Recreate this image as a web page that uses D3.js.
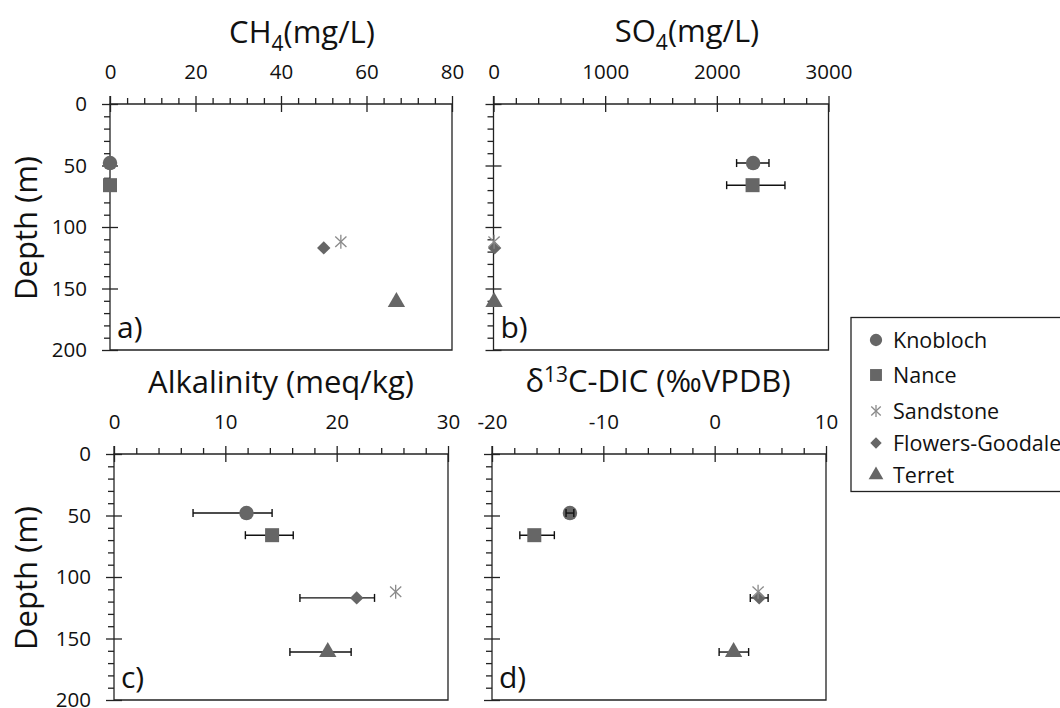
<!DOCTYPE html>
<html>
<head>
<meta charset="utf-8">
<script src="https://cdn.jsdelivr.net/npm/d3@7"></script>
<style>
  html, body { margin: 0; padding: 0; background: #fff; }
  svg { display: block; font-family: "Open Sans", Lato, sans-serif; }
</style>
</head>
<body>
<svg id="chart" width="1060" height="708"></svg>
<script>
// Sampling sites, their depths and measured groundwater chemistry
const sites = ["Knobloch", "Nance", "Sandstone", "Flowers-Goodale", "Terret"];
const depth = [48, 66, 112, 117, 161];

const ch4 = [0, 0, 54, 50, 67];

const so4 = [2325, 2320, 5, 10, 5];
const so4Lo = [2177, 2088, null, null, null];
const so4Hi = [2467, 2610, null, null, null];

const alk = [11.9, 14.2, 25.3, 21.8, 19.2];
const alkLo = [7.1, 11.8, null, 16.7, 15.8];
const alkHi = [14.2, 16.1, null, 23.4, 21.3];

const d13c = [-13.0, -16.2, 3.9, 4.0, 1.7];
const d13cLo = [-13.35, -17.5, null, 3.2, 0.4];
const d13cHi = [-12.65, -14.4, null, 4.8, 3.05];

const depthTicks = [0, 50, 100, 150, 200];
const ch4Ticks = [0, 20, 40, 60, 80];
const so4Ticks = [0, 1000, 2000, 3000];
const alkTicks = [0, 10, 20, 30];
const d13cTicks = [-20, -10, 0, 10];

const svg = d3.select("#chart");
const AX = "#222";
const FILL = "#666";
const FONT = "'Open Sans', Lato, sans-serif";
const TICK_FS = 20.5;
const fmt = v => String(v); // plain hyphen-minus for negatives

// marker shape per site (diamond = square turned 45 degrees)
const shapes = {
  "Knobloch": d3.symbolCircle,
  "Nance": d3.symbolSquare,
  "Flowers-Goodale": d3.symbolSquare,
  "Terret": d3.symbolTriangle
};
const sizes = { "Knobloch": 165, "Nance": 196, "Flowers-Goodale": 90, "Terret": 130 };

function drawMarker(g, site, x, y, scale = 1) {
  if (site === "Sandstone") {
    const r = 7 * scale;
    const s = g.append("g").attr("transform", `translate(${x},${y})`)
      .attr("stroke", "#8a8a8a").attr("stroke-width", 1.3);
    s.append("line").attr("x1", 0).attr("y1", -r).attr("x2", 0).attr("y2", r);
    s.append("line").attr("x1", -r * 0.8).attr("y1", -r * 0.75).attr("x2", r * 0.8).attr("y2", r * 0.75);
    s.append("line").attr("x1", -r * 0.8).attr("y1", r * 0.75).attr("x2", r * 0.8).attr("y2", -r * 0.75);
    return;
  }
  const rot = site === "Flowers-Goodale" ? " rotate(45)" : "";
  g.append("path")
    .attr("d", d3.symbol().type(shapes[site]).size(sizes[site] * scale * scale)())
    .attr("transform", `translate(${x},${y})${rot}`)
    .attr("fill", FILL);
}

function errorBar(g, x, lo, hi, cy) {
  const eb = g.append("g").attr("stroke", "#111").attr("stroke-width", 1.4);
  eb.append("line").attr("x1", x(lo)).attr("x2", x(hi)).attr("y1", cy).attr("y2", cy);
  [lo, hi].forEach(v => eb.append("line")
    .attr("x1", x(v)).attr("x2", x(v)).attr("y1", cy - 4).attr("y2", cy + 4));
}

function panel(opt) {
  const { x0, x1, y0, y1, domain, ticks, minor, values, lo, hi, label, showY } = opt;
  const x = d3.scaleLinear().domain(domain).range([x0, x1]);
  const y = d3.scaleLinear().domain([0, 200]).range([y0, y1]);
  const g = svg.append("g");

  // frame (right and bottom edges)
  g.append("path")
    .attr("d", `M${x1},${y0}V${y1}H${x0}`)
    .attr("fill", "none").attr("stroke", AX).attr("stroke-width", 1.3);

  // top axis: major ticks cross the line, minor ticks outside
  const xMinor = d3.range(domain[0], domain[1] + minor / 2, minor)
    .filter(v => !ticks.includes(Math.round(v * 1000) / 1000));
  const top = g.append("g").attr("transform", `translate(0,${y0})`)
    .call(d3.axisTop(x).tickValues(xMinor).tickSize(6).tickFormat(""));
  top.select(".domain").remove();
  top.selectAll("line").attr("stroke", AX).attr("stroke-width", 1.3);
  const topMaj = g.append("g").attr("transform", `translate(0,${y0 + 8})`)
    .call(d3.axisTop(x).tickValues(ticks).tickSize(16).tickPadding(17).tickFormat(fmt));
  topMaj.select(".domain").remove();
  topMaj.selectAll("line").attr("stroke", AX).attr("stroke-width", 1.3);
  topMaj.selectAll("text").attr("font-size", TICK_FS).attr("fill", "#111")
    .attr("font-family", FONT);
  g.append("line").attr("x1", x0 - 0.5).attr("x2", x1 + 0.6).attr("y1", y0).attr("y2", y0)
    .attr("stroke", AX).attr("stroke-width", 1.3);

  // left depth axis
  const yMinor = d3.range(0, 201, 10).filter(v => !depthTicks.includes(v));
  const left = g.append("g").attr("transform", `translate(${x0},0)`)
    .call(d3.axisLeft(y).tickValues(yMinor).tickSize(6).tickFormat(""));
  left.select(".domain").remove();
  left.selectAll("line").attr("stroke", AX).attr("stroke-width", 1.3);
  const leftMaj = g.append("g").attr("transform", `translate(${x0 + 8},0)`)
    .call(d3.axisLeft(y).tickValues(depthTicks).tickSize(16).tickPadding(15)
      .tickFormat(showY ? fmt : ""));
  leftMaj.select(".domain").remove();
  leftMaj.selectAll("line").attr("stroke", AX).attr("stroke-width", 1.3);
  leftMaj.selectAll("text").attr("font-size", TICK_FS).attr("fill", "#111")
    .attr("font-family", FONT);
  g.append("line").attr("x1", x0).attr("x2", x0).attr("y1", y0 - 8).attr("y2", y1 + 0.6)
    .attr("stroke", AX).attr("stroke-width", 1.3);

  // panel letter
  g.append("text").attr("x", x0 + 7).attr("y", y1 - 12)
    .attr("font-size", 30).attr("fill", "#111").text(label);

  // error bars, then markers, then any bar shorter than its marker on top
  sites.forEach((s, i) => {
    if (lo && lo[i] != null) errorBar(g, x, lo[i], hi[i], y(depth[i]));
  });
  [0, 1, 3, 4, 2].forEach(i => drawMarker(g, sites[i], x(values[i]), y(depth[i])));
  sites.forEach((s, i) => {
    if (lo && lo[i] != null && x(hi[i]) - x(lo[i]) < 12) errorBar(g, x, lo[i], hi[i], y(depth[i]));
  });
  return g;
}

panel({ x0: 110, x1: 452, y0: 104, y1: 350, domain: [0, 80], ticks: ch4Ticks, minor: 4,
  values: ch4, label: "a)", showY: true });
panel({ x0: 493.5, x1: 828.5, y0: 104, y1: 350, domain: [0, 3000], ticks: so4Ticks, minor: 200,
  values: so4, lo: so4Lo, hi: so4Hi, label: "b)", showY: false });
panel({ x0: 114, x1: 448, y0: 454, y1: 700, domain: [0, 30], ticks: alkTicks, minor: 2,
  values: alk, lo: alkLo, hi: alkHi, label: "c)", showY: true });
panel({ x0: 492, x1: 826, y0: 454, y1: 700, domain: [-20, 10], ticks: d13cTicks, minor: 2,
  values: d13c, lo: d13cLo, hi: d13cHi, label: "d)", showY: false });

// panel titles
function title(cx, by, parts) {
  const t = svg.append("text").attr("x", cx).attr("y", by).attr("text-anchor", "middle")
    .attr("font-size", 31).attr("fill", "#111");
  parts.forEach(p => {
    const ts = t.append("tspan").text(p.t);
    if (p.sub) ts.attr("font-size", 21).attr("dy", 8);
    if (p.sup) ts.attr("font-size", 21).attr("dy", -10);
    if (p.back) ts.attr("dy", p.back);
  });
}
title(302, 43, [{ t: "CH" }, { t: "4", sub: true }, { t: "(mg/L)", back: -8 }]);
title(687, 42, [{ t: "SO" }, { t: "4", sub: true }, { t: "(mg/L)", back: -8 }]);
title(281, 393, [{ t: "Alkalinity (meq/kg)" }]);
title(658, 392, [{ t: "δ" }, { t: "13", sup: true }, { t: "C-DIC (‰VPDB)", back: 10 }]);

// depth axis titles
[228, 578].forEach(cy => {
  svg.append("text").attr("transform", `translate(37,${cy}) rotate(-90)`)
    .attr("text-anchor", "middle").attr("font-size", 31).attr("fill", "#111")
    .text("Depth (m)");
});

// legend
const lg = svg.append("g");
lg.append("rect").attr("x", 851).attr("y", 317.5).attr("width", 240).attr("height", 174)
  .attr("fill", "#fff").attr("stroke", AX).attr("stroke-width", 1.3);
const legendY = [340, 375, 411, 443, 475];
sites.forEach((s, i) => {
  drawMarker(lg, s, 876, legendY[i], 0.85);
  lg.append("text").attr("x", 893).attr("y", legendY[i]).attr("dy", "0.35em")
    .attr("font-size", 21.5).attr("fill", "#111").text(s);
});
</script>
</body>
</html>
